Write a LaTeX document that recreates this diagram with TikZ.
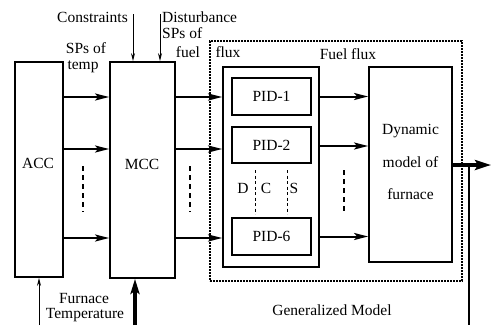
\documentclass[tikz,border=0pt]{standalone}
\usepackage{fontspec}
\setmainfont{Liberation Serif}
\usetikzlibrary{arrows.meta}
\begin{document}
\begin{tikzpicture}[x=1pt,y=-1pt,
  box/.style={draw,line width=1.8pt,minimum width=#1,inner sep=0pt},
  arr/.style={line width=2pt,-{Stealth[length=14pt,width=7pt,inset=3pt]}},
  thickarr/.style={line width=3.2pt,-{Stealth[length=15pt,width=9pt,inset=3pt]}},
  thinarr/.style={line width=1pt,-{Stealth[length=8pt,width=4pt]}},
  dash3/.style={line width=2pt,dash pattern=on 5pt off 4pt},
  dash1/.style={line width=1pt,dash pattern=on 3pt off 2.5pt},
  lbl/.style={inner sep=0pt,font=\fontsize{15.5}{18}\selectfont},
  every node/.style={font=\fontsize{15.5}{18}\selectfont}]
\useasboundingbox (0,0) rectangle (491,325);
% boxes
\node[box=48pt,minimum height=215pt] (acc) at (39,169.5) {};
\node[box=65pt,minimum height=216pt] (mcc) at (142.5,170) {};
\node[draw,line width=1.8pt,dash pattern=on 1.6pt off 1.4pt,minimum width=252pt,minimum height=240pt,inner sep=0pt] (gm) at (336,161) {};
\node[box=96pt,minimum height=200pt] (cont) at (271,167) {};
\node[box=79pt,minimum height=37pt] (pid1) at (271.5,96.5) {};
\node[box=79pt,minimum height=36pt] (pid2) at (271.5,145) {};
\node[box=79pt,minimum height=37pt] (pid6) at (271.5,236.5) {};
\node[box=83pt,minimum height=195pt] (dyn) at (410.5,164.5) {};
% box texts
\node[lbl] (tacc) at (38,163) {ACC};
\node[lbl] (tmcc) at (142,164) {MCC};
\node[lbl] (tp1) at (pid1) {PID-1};
\node[lbl] (tp2) at (pid2) {PID-2};
\node[lbl] (tp6) at (pid6) {PID-6};
\node[lbl] (td1) at (410.5,131) {Dynamic};
\node[lbl] (td2) at (410.5,162) {model of};
\node[lbl] (td3) at (410.5,194) {furnace};
\node[lbl] (tD) at (243,188) {D};
\node[lbl] (tC) at (266,188) {C};
\node[lbl] (tS) at (294,188) {S};
% other labels
\node[lbl,anchor=east] (tcons) at (128,17) {Constraints};
\node[lbl,anchor=west] (tdist) at (162,17) {Disturbance};
\node[lbl,anchor=west] (tsps) at (162,33) {SPs of};
\node[lbl] (tfuel) at (188,52) {fuel};
\node[lbl] (tflux) at (228,52) {flux};
\node[lbl] (tspt) at (86,48) {SPs of};
\node[lbl] (ttemp) at (83,67) {temp};
\node[lbl] (tff) at (348,54) {Fuel flux};
\node[lbl] (tfur) at (84,298) {Furnace};
\node[lbl] (ttem) at (85,315) {Temperature};
\node[lbl] (tgen) at (332,310) {Generalized Model};
% coordinates
\coordinate (ctop) at (133,14);
\coordinate (dtop) at (160,14);
\coordinate (out) at (491,165);
\coordinate (fbtop) at (469,165);
\coordinate (fbbot) at (469,325);
\coordinate (accin) at (39,325);
\coordinate (mccin) at (135,325);
% input arrows
\draw[thinarr] (ctop) -- (ctop |- mcc.north);
\draw[thinarr] (dtop) -- (dtop |- mcc.north);
% ACC -> MCC -> container
\foreach \y in {97,149,238}{
  \draw[arr] (acc.east |- 0,\y) -- (mcc.west |- 0,\y);
  \draw[arr] (mcc.east |- 0,\y) -- (cont.west |- 0,\y);
}
\foreach \y in {96.5,146,236.5}{
  \draw[arr] (cont.east |- 0,\y) -- (dyn.west |- 0,\y);
}
% dashes
\draw[dash3] (83,166) -- (83,212);
\draw[dash3] (190,166) -- (190,212);
\draw[dash3] (344,170) -- (344,214);
\draw[dash1] (255,170) -- (255,214);
\draw[dash1] (287,170) -- (287,214);
% output
\draw[line width=3.2pt,-{Stealth[length=16pt,width=10pt,inset=3pt]}] (dyn.east |- out) -- (out);
\draw[line width=2pt] (fbtop) -- (fbbot);
% feedback
\draw[thinarr] (accin) -- (acc.south -| accin);
\draw[thickarr] (mccin) -- (mcc.south -| mccin);
\end{tikzpicture}
\end{document}
